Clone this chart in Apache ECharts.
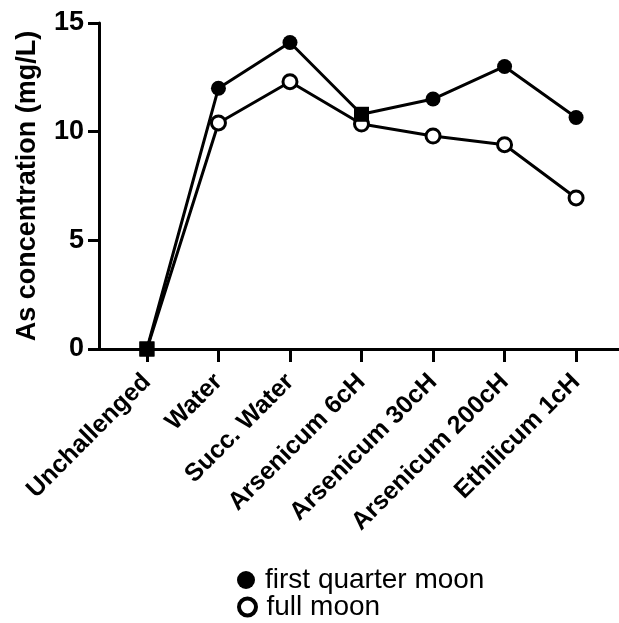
<!DOCTYPE html>
<html><head><meta charset="utf-8">
<script src="https://cdn.jsdelivr.net/npm/echarts@6/dist/echarts.min.js"></script>
<style>html,body{margin:0;padding:0;background:#fff}#c{width:619px;height:623px}</style>
</head><body><div id="c"></div>
<script>
const categories = ['Unchallenged','Water','Succ. Water','Arsenicum 6cH','Arsenicum 30cH','Arsenicum 200cH','Ethilicum 1cH'];
const firstQuarter = [0, 12.0, 14.1, 10.8, 11.5, 13.0, 10.65];
const fullMoon = [0, 10.4, 12.3, 10.35, 9.8, 9.4, 6.95];
const yTicks = [0, 5, 10, 15];
const seriesNames = ['first quarter moon', 'full moon'];

const FONT = '"Liberation Sans", Arial, Helvetica, sans-serif';
const chart = echarts.init(document.getElementById('c'), null, {renderer:'canvas'});
function pts(vals, squareIdx){
  return vals.map((v,i)=>{
    const d = {value:[i, v]};
    if (squareIdx.includes(i)) { d.symbol = 'rect'; d.symbolSize = 15; d.itemStyle = {color:'#000', borderWidth:0}; }
    return d;
  });
}
const catIdx = categories.map((c,i)=>i);
chart.setOption({
  animation:false,
  backgroundColor:'#fff',
  grid:{left:99, right:0, top:23, bottom:274, containLabel:false, outerBoundsMode:'none'},
  xAxis:{
    type:'value', min:-0.67, max:6.6,
    splitLine:{show:false},
    axisLine:{show:true, onZero:false, lineStyle:{color:'#000', width:3}},
    axisTick:{show:true, customValues:catIdx, length:13, lineStyle:{color:'#000', width:3}},
    axisLabel:{show:true, customValues:catIdx, rotate:45, margin:29,
      formatter:(v)=>categories[Math.round(v)] || '',
      color:'#000', fontFamily:FONT, fontWeight:'bold', fontSize:25}
  },
  yAxis:{
    type:'value', min:0, max:15, interval:5,
    name:'As concentration (mg/L)', nameLocation:'middle', nameGap:58, nameRotate:90,
    nameTextStyle:{color:'#000', fontFamily:FONT, fontWeight:'bold', fontSize:27},
    splitLine:{show:false},
    axisLine:{show:true, onZero:false, lineStyle:{color:'#000', width:3}},
    axisTick:{show:true, length:11, lineStyle:{color:'#000', width:3}},
    axisLabel:{margin:15, color:'#000', fontFamily:FONT, fontWeight:'bold', fontSize:27,
      customValues: yTicks}
  },
  legend:[
    {orient:'vertical', left:232, top:561, itemWidth:28, itemHeight:18, itemGap:6,
     textStyle:{color:'#000', fontFamily:FONT, fontSize:28},
     data:[{name:seriesNames[0], icon:'circle', itemStyle:{color:'#000', borderWidth:0}}]},
    {orient:'vertical', left:232, top:588, itemWidth:28, itemHeight:17, itemGap:6,
     textStyle:{color:'#000', fontFamily:FONT, fontSize:28},
     data:[{name:seriesNames[1], icon:'circle', itemStyle:{color:'#fff', borderColor:'#000', borderWidth:4}}]}
  ],
  series:[
    {name:seriesNames[0], type:'line', data:pts(firstQuarter,[0,3]),
     symbol:'circle', symbolSize:15, lineStyle:{color:'#000', width:3}, itemStyle:{color:'#000'}, z:3},
    {name:seriesNames[1], type:'line', data:pts(fullMoon,[0]),
     symbol:'circle', symbolSize:14, lineStyle:{color:'#000', width:3},
     itemStyle:{color:'#fff', borderColor:'#000', borderWidth:3}, z:2}
  ]
});
</script></body></html>
